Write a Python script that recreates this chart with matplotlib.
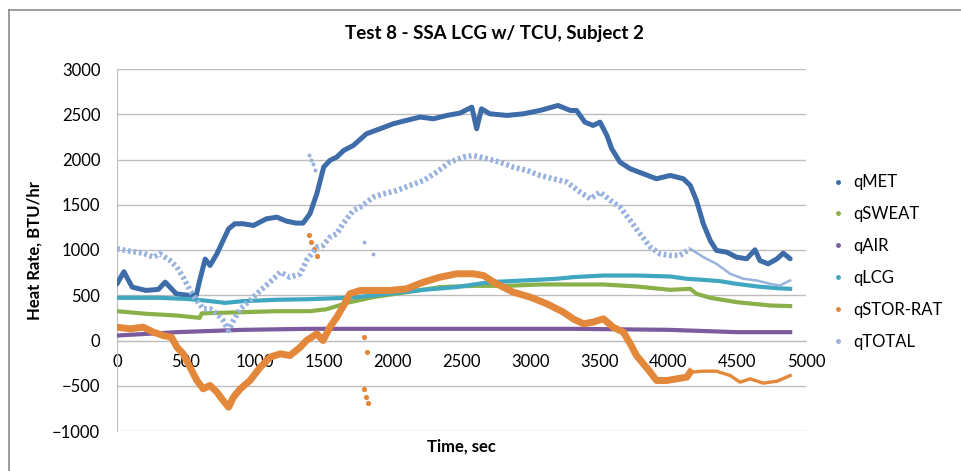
import numpy as np
import matplotlib
matplotlib.use("Agg")
import matplotlib.pyplot as plt
from matplotlib.lines import Line2D

plt.rcParams["font.family"] = ["Lato", "DejaVu Sans"]

# ---- data (time in s, heat rate in BTU/hr) ----
t_met = [0, 50, 110, 210, 300, 350, 430, 530, 575, 600, 640, 675, 725, 770, 810,
         855, 915, 990, 1085, 1160, 1230, 1300, 1350, 1400, 1450, 1500, 1545, 1595,
         1645, 1715, 1810, 1910, 2005, 2100, 2200, 2295, 2395, 2490, 2575, 2610,
         2645, 2705, 2830, 2950, 3070, 3200, 3290, 3335, 3395, 3455, 3505, 3555,
         3590, 3650, 3725, 3820, 3915, 4015, 4110, 4160, 4205, 4255, 4305, 4350,
         4425, 4495, 4570, 4630, 4665, 4725, 4790, 4835, 4885]
q_met = [626, 760, 590, 553, 565, 645, 516, 497, 500, 663, 900, 829, 958, 1105, 1234,
         1290, 1290, 1271, 1345, 1363, 1319, 1297, 1297, 1400, 1621, 1916, 1990, 2027,
         2100, 2155, 2284, 2340, 2395, 2432, 2469, 2450, 2487, 2513, 2579, 2340,
         2560, 2505, 2487, 2505, 2542, 2597, 2542, 2542, 2413, 2376, 2413, 2266,
         2119, 1971, 1897, 1842, 1787, 1824, 1787, 1713, 1547, 1290, 1105, 995,
         976, 921, 903, 1002, 884, 847, 903, 965, 903]

t_sweat = [0, 210, 435, 600, 615, 915, 1160, 1400, 1520, 1680, 1860, 2100, 2345,
           2585, 2830, 3070, 3310, 3530, 3770, 4015, 4160, 4205, 4305, 4495, 4740, 4885]
q_sweat = [324, 295, 276, 250, 300, 313, 324, 324, 345, 420, 479, 534, 590,
           604, 604, 619, 619, 619, 597, 560, 571, 516, 472, 424, 387, 380]

t_air = [0, 430, 915, 1400, 2500, 3300, 4000, 4500, 4885]
q_air = [55, 92, 118, 129, 129, 129, 118, 92, 92]

t_lcg = [0, 300, 500, 580, 675, 785, 915, 1160, 1400, 1680, 1860, 2225, 2465, 2705,
         2950, 3190, 3310, 3530, 3770, 4015, 4135, 4255, 4375, 4495, 4645, 4790, 4885]
q_lcg = [472, 472, 460, 450, 435, 416, 435, 450, 457, 472, 497, 560, 590, 645,
         663, 682, 700, 718, 718, 707, 682, 670, 656, 626, 597, 578, 571]

t_stor = [0, 95, 190, 265, 335, 395, 435, 480, 530, 580, 625, 675, 725, 770, 810,
          845, 895, 965, 1040, 1110, 1185, 1255, 1330, 1375, 1450, 1495, 1545, 1595,
          1645, 1690, 1765, 1860, 1980, 2100, 2225, 2345, 2465, 2585, 2660, 2755,
          2875, 3000, 3120, 3240, 3310, 3385, 3455, 3530, 3600, 3675, 3725, 3770,
          3820, 3870, 3915, 3990, 4060, 4135, 4160, 4255, 4350, 4450, 4520, 4595,
          4690, 4790, 4885]
q_stor = [147, 129, 147, 92, 55, 37, -74, -147, -295, -442, -534, -497, -571, -663, -737,
          -626, -534, -442, -295, -184, -147, -166, -74, 0, 74, 0, 147, 258,
          387, 516, 553, 553, 553, 571, 645, 700, 737, 737, 718, 626,
          534, 479, 405, 313, 240, 184, 203, 240, 147, 92, -37, -166,
          -258, -350, -442, -442, -424, -405, -350, -339, -339, -387, -460, -424,
          -471, -450, -387]
# loose clusters of qSTOR-RAT points
t_stor_out = [1390, 1410, 1430, 1450, 1790, 1815, 1790, 1805, 1820]
q_stor_out = [1170, 1090, 1010, 930, 40, -130, -540, -620, -690]

t_total = [0, 95, 190, 265, 310, 385, 435, 480, 530, 580, 625, 675, 725, 770, 810,
           845, 895, 965, 1040, 1110, 1185, 1255, 1330, 1375, 1450, 1495, 1545, 1595,
           1645, 1715, 1765, 1860, 1935, 2030, 2125, 2225, 2320, 2415, 2515, 2585,
           2685, 2780, 2875, 2975, 3070, 3165, 3265, 3360, 3435, 3505, 3580, 3650,
           3725, 3795, 3870, 3940, 4015, 4085, 4160, 4255, 4350, 4450, 4545, 4645,
           4740, 4810, 4885]
q_total = [1013, 987, 965, 921, 958, 884, 810, 700, 553, 442, 350, 350, 295, 221, 110,
           221, 350, 442, 553, 645, 755, 700, 737, 884, 1032, 1050, 1142, 1179,
           1300, 1437, 1474, 1584, 1621, 1658, 1713, 1768, 1861, 1971, 2027, 2045,
           2008, 1971, 1916, 1879, 1824, 1787, 1750, 1640, 1566, 1640, 1548, 1474,
           1326, 1179, 1032, 958, 940, 940, 1013, 921, 847, 737, 682, 663, 626,
           608, 663]
t_total_out = [1395, 1410, 1425, 1440, 1792, 1855]
q_total_out = [2050, 2000, 1950, 1880, 1087, 958]

series_names = ["qMET", "qSWEAT", "qAIR", "qLCG", "qSTOR-RAT", "qTOTAL"]
colors = ["#3D6CA8", "#8AB04A", "#7B5A9E", "#3FA7BF", "#E3873A", "#98B2DE"]

# ---- figure ----
fig = plt.figure(figsize=(9.61, 4.71), dpi=100)
ax = fig.add_axes([117 / 961, 1 - 431 / 471, 689 / 961, 362 / 471])

# outer chart frame (top + left edges visible)
fig.add_artist(Line2D([9 / 961, 1], [1 - 10 / 471] * 2, color="#8C8C8C", lw=1.2))
fig.add_artist(Line2D([9 / 961] * 2, [0, 1 - 10 / 471], color="#8C8C8C", lw=1.2))

ax.plot(t_met, q_met, color=colors[0], lw=3.6, solid_capstyle="round", zorder=3)
ax.plot(t_sweat, q_sweat, color=colors[1], lw=3.0, zorder=3)
ax.plot(t_air, q_air, color=colors[2], lw=3.0, zorder=3)
ax.plot(t_lcg, q_lcg, color=colors[3], lw=3.0, zorder=3)

# noisy part (wide band) up to ~4160 s, smooth thin trace afterwards
ts = np.array(t_stor)
qs = np.array(q_stor)
ax.plot(ts[ts <= 4160], qs[ts <= 4160], color=colors[4], lw=5.0, zorder=4)
ax.plot(ts[ts >= 4160], qs[ts >= 4160], color=colors[4], lw=2.4, zorder=4)
ax.scatter(t_stor_out, q_stor_out, s=14, color=colors[4], zorder=4, lw=0)

tt = np.array(t_total)
qt = np.array(q_total)
ax.plot(tt[tt <= 4160], qt[tt <= 4160], color=colors[5], lw=4.0,
        ls=(0, (0.5, 0.5)), zorder=5)
ax.plot(tt[tt >= 4160], qt[tt >= 4160], color=colors[5], lw=1.8, zorder=5)
ax.scatter(t_total_out, q_total_out, s=8, color=colors[5], zorder=5, lw=0)

ax.set_xlim(0, 5000)
ax.set_ylim(-1000, 3000)
ax.set_xticks(np.arange(0, 5001, 500))
ax.set_yticks(np.arange(-1000, 3001, 500))
ax.yaxis.grid(True, color="#BDBDBD", lw=1.0)
ax.set_axisbelow(True)

for side in ["top", "right"]:
    ax.spines[side].set_visible(False)
ax.spines["left"].set_color("#BDBDBD")
ax.spines["bottom"].set_position(("data", 0))
ax.spines["bottom"].set_color("#BDBDBD")
ax.tick_params(axis="both", length=0, labelsize=12, colors="#000000")
ax.tick_params(axis="x", pad=10)
ax.tick_params(axis="y", pad=12)

fig.text(461 / 961, 1 - 447 / 471, "Time, sec", ha="center", va="center",
         fontsize=12, fontweight="bold")
fig.text(35 / 961, 1 - 250 / 471, "Heat Rate, BTU/hr", ha="center", va="center",
         rotation=90, fontsize=12, fontweight="bold")
fig.text(494 / 961, 1 - 33 / 471, "Test 8 - SSA LCG w/ TCU, Subject 2",
         ha="center", va="center", fontsize=13.5, fontweight="bold")

handles = [Line2D([], [], ls="none", marker="o", markersize=2.5, color=c) for c in colors]
fig.legend(handles, series_names, loc="center left",
           bbox_to_anchor=(818 / 961, 1 - 262 / 471), frameon=False,
           fontsize=12, handlelength=0.6, handletextpad=0.6, labelspacing=0.95)

fig.savefig("out.png", dpi=100)
